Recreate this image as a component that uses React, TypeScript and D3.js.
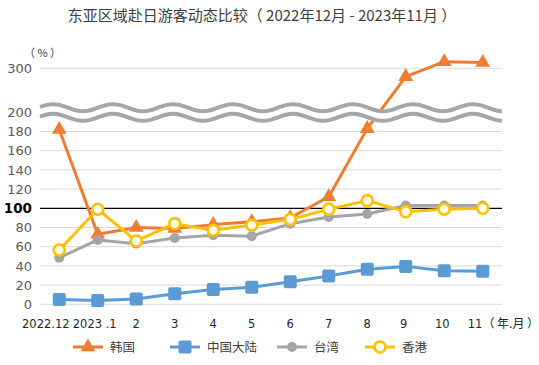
import React from "react";
import * as d3 from "d3";

const months = ["2022.12", "2023 .1", "2", "3", "4", "5", "6", "7", "8", "9", "10", "11"];
const korea = [182, 73, 80, 79, 83, 86, 90, 112, 183, 281, 315, 313];
const china = [5, 4, 5.5, 11, 15.5, 17.7, 23.5, 29.5, 36.5, 39.5, 35, 34.5];
const taiwan = [48.5, 67, 63, 69, 72, 71, 84, 91, 94, 103, 103, 103];
const hongkong = [56.5, 99, 66, 84, 77, 82.5, 88.5, 99, 108, 96.5, 99, 100];
const yTicks = [0, 20, 40, 60, 80, 100, 120, 140, 160, 180, 200, 300];
const gridTicks = [0, 20, 40, 60, 80, 120, 140, 160, 180, 300];

const W = 539;
const H = 365;
const FONT = "'DejaVu Sans', 'Noto Sans CJK SC', sans-serif";
const CJK = "'Noto Sans CJK SC', sans-serif";

const series = [
  { name: "韩国", values: korea, color: "#ED7D31", marker: "triangle" },
  { name: "中国大陆", values: china, color: "#5B9BD5", marker: "square" },
  { name: "台湾", values: taiwan, color: "#A5A5A5", marker: "dot" },
  { name: "香港", values: hongkong, color: "#FFC000", marker: "ring" },
];

const x = d3.scalePoint<string>().domain(months).range([40, 502]).padding(0.5);
// broken axis: 0-200 and 200-300 use different scales
const y = d3.scaleLinear().domain([0, 200, 300]).range([304.3, 112.3, 68.3]);

function Marker({ type, cx, cy, color }: { type: string; cx: number; cy: number; color: string }) {
  if (type === "triangle") {
    const p = d3.symbol(d3.symbolTriangle, 95)();
    return <path d={p || ""} transform={`translate(${cx},${cy})`} fill={color} />;
  }
  if (type === "square") {
    return <rect x={cx - 6.5} y={cy - 6.5} width={13} height={13} rx={2} fill={color} />;
  }
  if (type === "dot") {
    return <circle cx={cx} cy={cy} r={5} fill={color} />;
  }
  return <circle cx={cx} cy={cy} r={5.5} fill="#FFFBEA" stroke={color} strokeWidth={2.6} />;
}

export default function App() {
  const line = d3
    .line<number>()
    .x((_, i) => x(months[i]) as number)
    .y((d) => y(d));

  const xs = d3.range(40, 503, 2);
  const wave = (yc: number) => (xx: number) => yc - 3.5 * Math.cos((2 * Math.PI * (xx - 53)) / 60);
  const top = wave(107.7);
  const bot = wave(117.3);
  const waveLine = d3.line<number>().x((d) => d);
  const band =
    "M" +
    xs.map((d) => `${d},${top(d)}`).join("L") +
    "L" +
    xs
      .slice()
      .reverse()
      .map((d) => `${d},${bot(d)}`)
      .join("L") +
    "Z";

  const legendX = [73, 170, 277, 365];

  return (
    <svg width={W} height={H} style={{ position: "absolute", left: 0, top: 0, background: "#fff" }}>
      <text x={262} y={21} textAnchor="middle" fontFamily={CJK} fontSize={15} fill="#404040">
        东亚区域赴日游客动态比较（ 2022年12月 - 2023年11月 ）
      </text>
      <text x={24} y={57} fontFamily={CJK} fontSize={11} fill="#404040">
        （ % ）
      </text>

      {gridTicks.map((t) => (
        <line key={t} x1={40} x2={502} y1={y(t)} y2={y(t)} stroke="#D9D9D9" strokeWidth={1} />
      ))}
      <line x1={40} x2={502} y1={y(100)} y2={y(100)} stroke="#000" strokeWidth={1.2} />

      {yTicks.map((t) => (
        <text
          key={t}
          x={32}
          y={y(t)}
          dy="0.36em"
          textAnchor="end"
          fontFamily={FONT}
          fontSize={t === 100 ? 13.5 : 13}
          fontWeight={t === 100 ? "bold" : "normal"}
          fill={t === 100 ? "#000" : "#595959"}
        >
          {t}
        </text>
      ))}

      {months.map((m, i) => {
        const cx = x(m) as number;
        if (i === 0)
          return (
            <text key={m} x={22} y={328} fontFamily={FONT} fontSize={11.5} fill="#262626">
              {m}
            </text>
          );
        if (i === months.length - 1)
          return (
            <text key={m} x={cx - 15} y={328} fontFamily={FONT} fontSize={11.5} fill="#262626">
              {m}
              <tspan fontFamily={CJK} fontSize={12}>（ 年.月 ）</tspan>
            </text>
          );
        return (
          <text key={m} x={i === 1 ? cx - 3 : cx - (i >= 9 ? 2 : 0)} y={328} textAnchor="middle" fontFamily={FONT} fontSize={11.5} fill="#262626">
            {m}
          </text>
        );
      })}

      {series.map((s) => (
        <g key={s.name}>
          <path d={line(s.values) || ""} fill="none" stroke={s.color} strokeWidth={3} strokeLinejoin="round" />
          {s.values.map((v, i) => (
            <Marker key={i} type={s.marker} cx={x(months[i]) as number} cy={y(v)} color={s.color} />
          ))}
        </g>
      ))}

      <path d={band} fill="#fff" />
      <path d={waveLine.y(top)(xs) || ""} fill="none" stroke="#A6A6A6" strokeWidth={4} />
      <path d={waveLine.y(bot)(xs) || ""} fill="none" stroke="#A6A6A6" strokeWidth={4} />

      {series.map((s, i) => (
        <g key={s.name}>
          <line x1={legendX[i]} x2={legendX[i] + 30} y1={347} y2={347} stroke={s.color} strokeWidth={3} />
          <Marker type={s.marker} cx={legendX[i] + 15} cy={347} color={s.color} />
          <text x={legendX[i] + 37} y={351.5} fontFamily={CJK} fontSize={12.5} fill="#404040">
            {s.name}
          </text>
        </g>
      ))}
    </svg>
  );
}
